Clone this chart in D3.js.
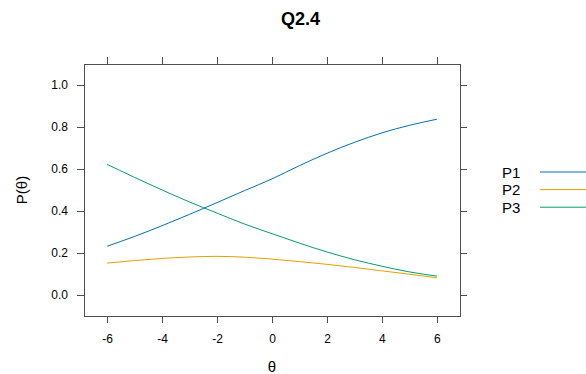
<!DOCTYPE html>
<html>
<head>
<meta charset="utf-8">
<script src="https://cdn.jsdelivr.net/npm/d3@7"></script>
<style>
  html, body { margin: 0; padding: 0; background: #fff; }
  svg { display: block; font-family: "Liberation Sans", Arial, sans-serif; }
</style>
</head>
<body>
<svg id="chart" width="586" height="374"></svg>
<script>
// Trace lines for item Q2.4, one curve per response category
const theta = [-6, -5, -4, -3, -2, -1, 0, 1, 2, 3, 4, 5, 6];
const p1 = [0.232, 0.279, 0.330, 0.384, 0.440, 0.497, 0.553, 0.616, 0.675, 0.727, 0.772, 0.808, 0.837];
const p2 = [0.152, 0.164, 0.174, 0.181, 0.184, 0.180, 0.171, 0.159, 0.146, 0.131, 0.115, 0.099, 0.082];
const p3 = [0.622, 0.560, 0.500, 0.443, 0.390, 0.338, 0.292, 0.247, 0.205, 0.168, 0.137, 0.110, 0.090];
const seriesNames = ["P1", "P2", "P3"];
const seriesColors = ["#0072B2", "#E69F00", "#009E73"];
const xTicks = [-6, -4, -2, 0, 2, 4, 6];
const yTicks = [0.0, 0.2, 0.4, 0.6, 0.8, 1.0];
const title = "Q2.4";

const svg = d3.select("#chart");
const panel = { left: 84, right: 460, top: 64, bottom: 316 };

const x = d3.scaleLinear().domain([-6.84, 6.84]).range([panel.left, panel.right]);
const y = d3.scaleLinear().domain([-0.1, 1.1]).range([panel.bottom, panel.top]);

const tickLen = 7;
const axisColor = "#4d4d4d";
// plain hyphen for negatives
const fmtX = d => String(d);
const fmtY = d => d.toFixed(1);

// axes: labelled on left/bottom, bare ticks on top/right
const gx = svg.append("g").attr("transform", `translate(0,${panel.bottom})`)
  .call(d3.axisBottom(x).tickValues(xTicks).tickSize(tickLen).tickPadding(11).tickFormat(fmtX));
const gxTop = svg.append("g").attr("transform", `translate(0,${panel.top})`)
  .call(d3.axisTop(x).tickValues(xTicks).tickSize(tickLen).tickFormat(""));
const gy = svg.append("g").attr("transform", `translate(${panel.left},0)`)
  .call(d3.axisLeft(y).tickValues(yTicks).tickSize(tickLen).tickPadding(9).tickFormat(fmtY));
const gyRight = svg.append("g").attr("transform", `translate(${panel.right},0)`)
  .call(d3.axisRight(y).tickValues(yTicks).tickSize(tickLen).tickFormat(""));

[gx, gxTop, gy, gyRight].forEach(g => {
  g.select(".domain").remove();
  g.selectAll(".tick line").attr("stroke", axisColor).attr("shape-rendering", "crispEdges");
  g.selectAll(".tick text").attr("fill", "#000").style("font-size", "12px")
    .style("font-family", '"Liberation Sans", Arial, sans-serif');
});

// panel border
svg.append("rect")
  .attr("x", panel.left + 0.5).attr("y", panel.top + 0.5)
  .attr("width", panel.right - panel.left).attr("height", panel.bottom - panel.top)
  .attr("fill", "none").attr("stroke", axisColor).attr("stroke-width", 1);

// curves
const series = [p1, p2, p3];
const line = d3.line()
  .x((d, i) => x(theta[i]))
  .y(d => y(d))
  .curve(d3.curveMonotoneX);

series.forEach((vals, k) => {
  svg.append("path")
    .datum(vals)
    .attr("d", line)
    .attr("fill", "none")
    .attr("stroke", seriesColors[k])
    .attr("stroke-width", 1);
});

// titles
svg.append("text")
  .attr("x", 300.5).attr("y", 25)
  .attr("text-anchor", "middle")
  .style("font-size", "18px").style("font-weight", "bold")
  .text(title);

svg.append("text")
  .attr("x", x(0)).attr("y", 372)
  .attr("text-anchor", "middle")
  .style("font-size", "15px")
  .text("θ");

svg.append("text")
  .attr("transform", `translate(27,${(panel.top + panel.bottom) / 2}) rotate(-90)`)
  .attr("text-anchor", "middle")
  .style("font-size", "15px")
  .text("P(θ)");

// legend
const legend = svg.append("g");
seriesNames.forEach((name, k) => {
  const yy = 172 + k * 17.6;
  legend.append("text")
    .attr("x", 502).attr("y", yy + 5.5)
    .style("font-size", "15px")
    .text(name);
  legend.append("line")
    .attr("x1", 540).attr("x2", 586)
    .attr("y1", yy).attr("y2", yy)
    .attr("stroke", seriesColors[k]).attr("stroke-width", 1);
});
</script>
</body>
</html>
